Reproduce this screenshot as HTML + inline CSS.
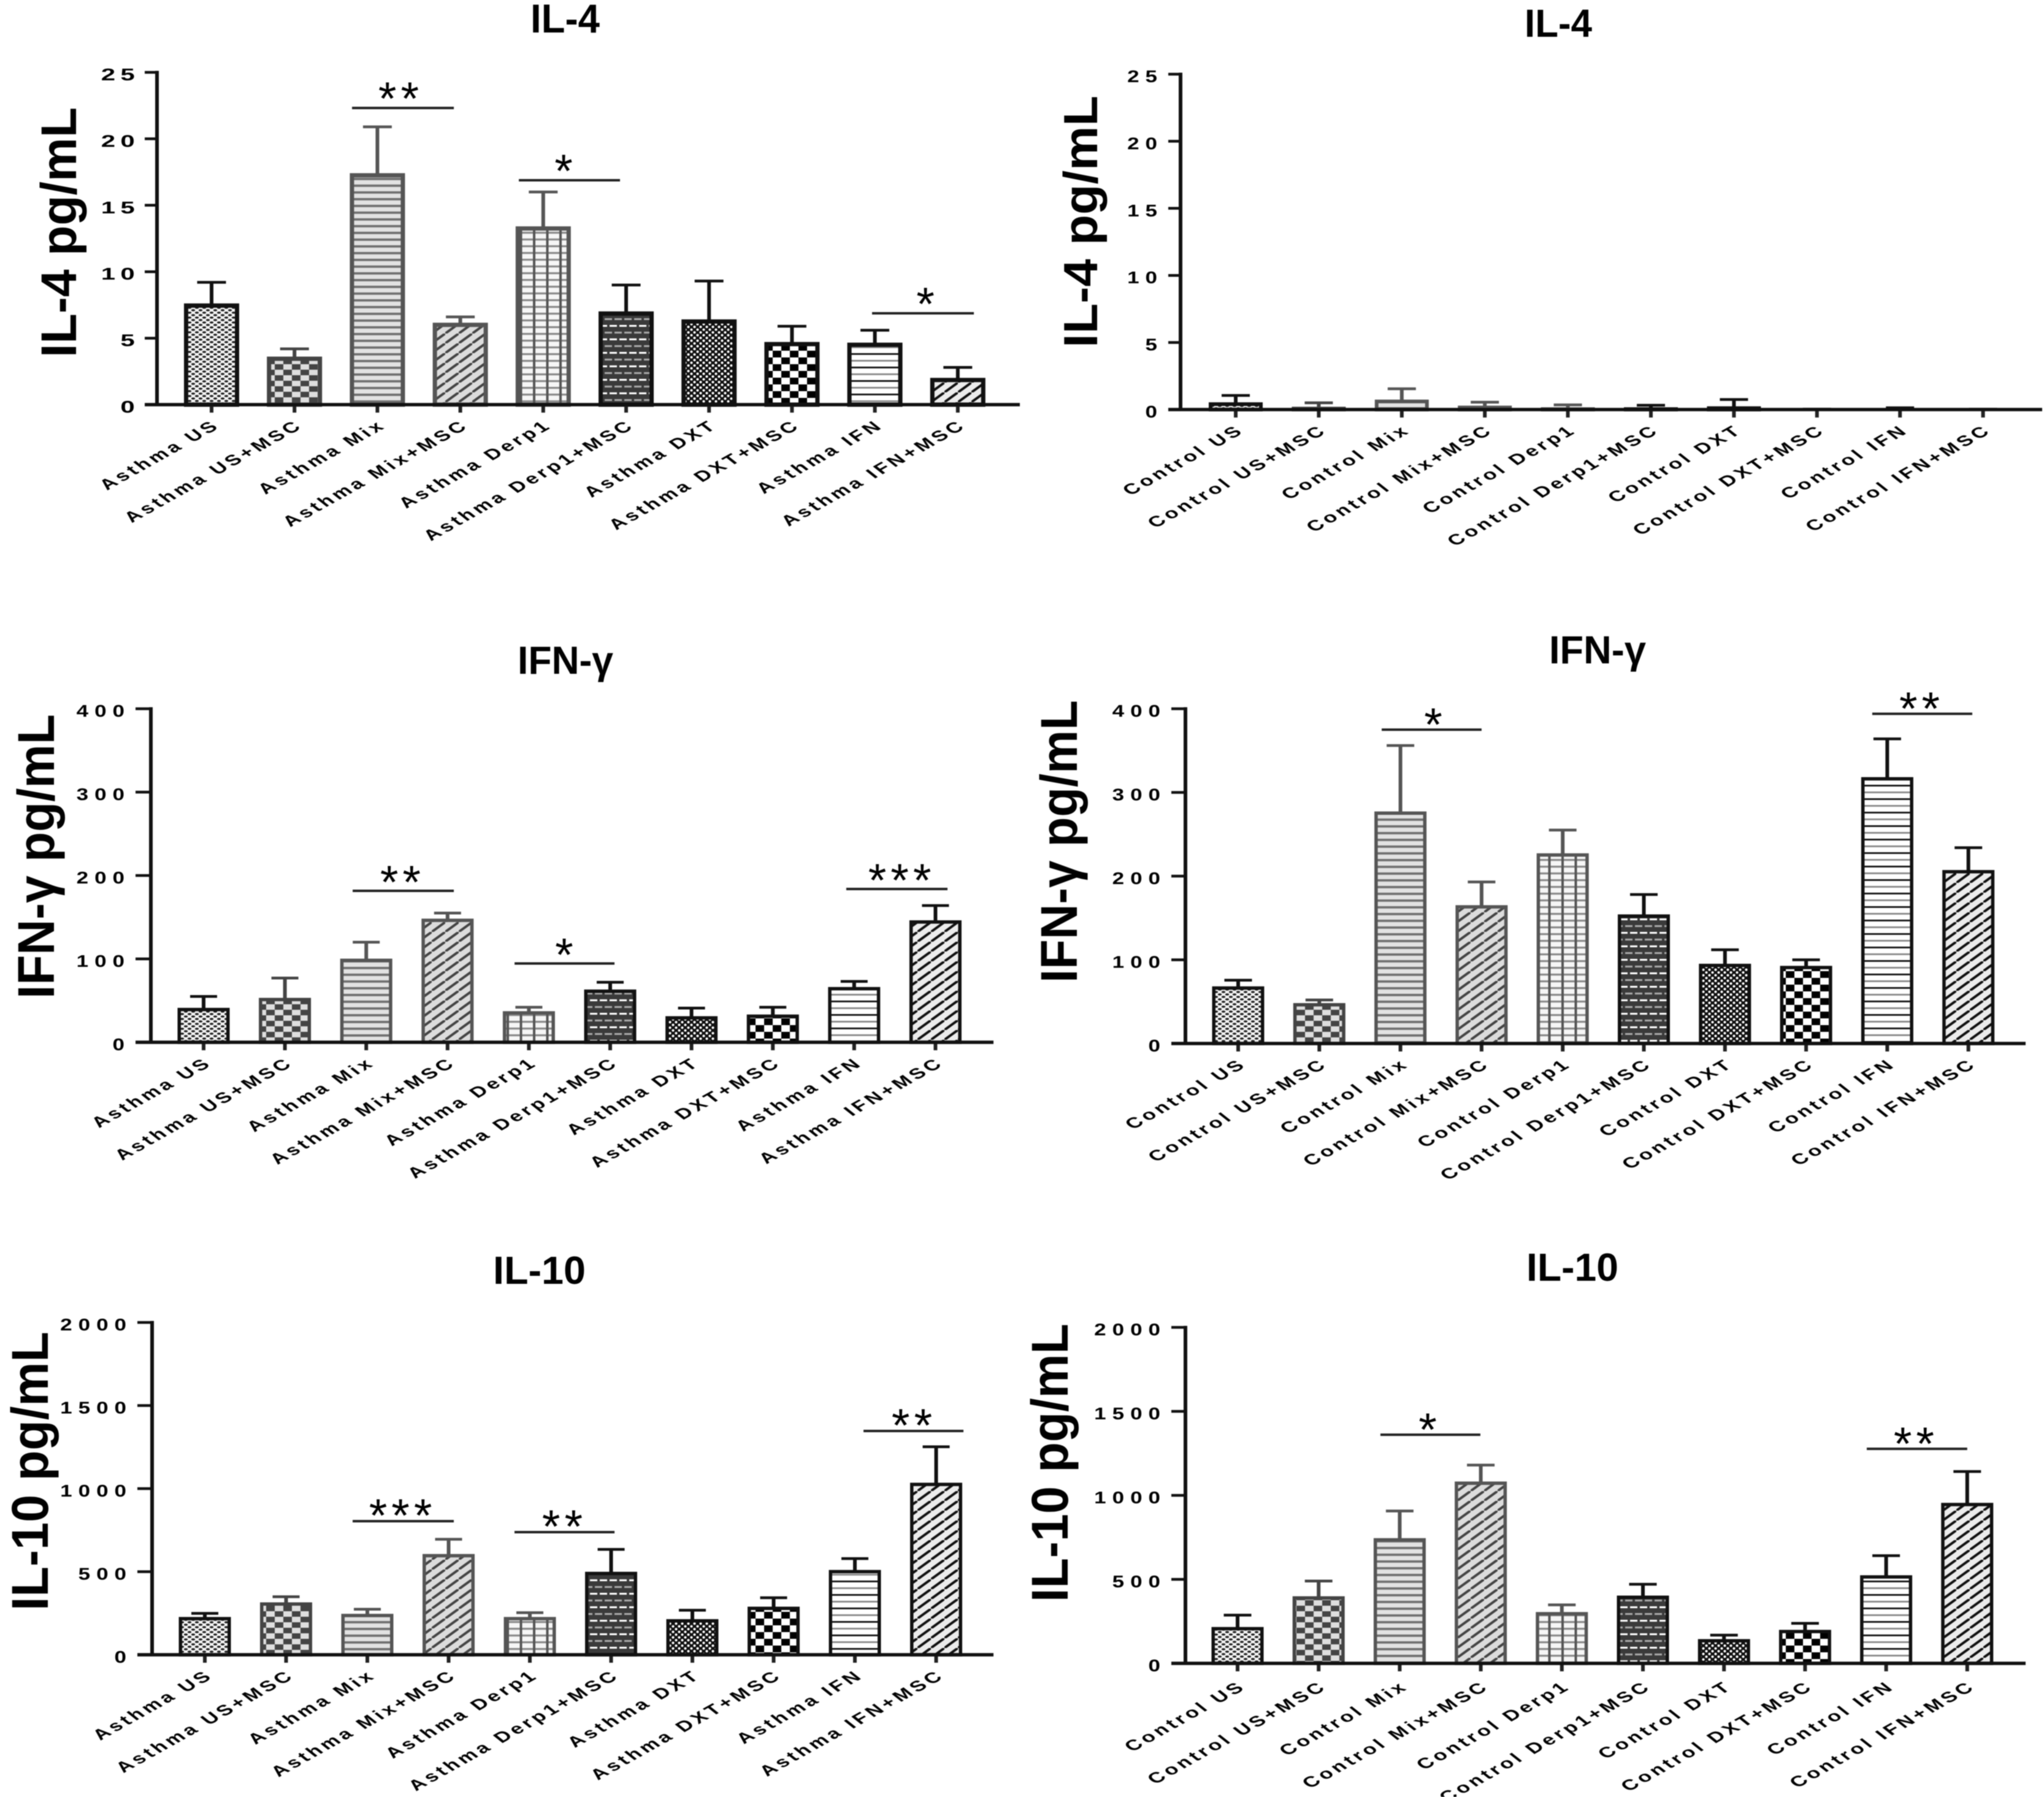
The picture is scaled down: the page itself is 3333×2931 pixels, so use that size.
<!DOCTYPE html>
<html lang="en">
<head>
<meta charset="utf-8">
<title>Cytokine levels in asthma and control groups</title>
<style>
html,body{margin:0;padding:0;background:#fff;}
#figure{display:block;width:3333px;height:2931px;background:#fff;filter:blur(0.7px);}
text{font-family:"Liberation Sans",sans-serif;fill:#000;}
</style>
</head>
<body>
<svg id="figure" xmlns="http://www.w3.org/2000/svg" width="3333" height="2931" viewBox="0 0 3333 2931">
<defs>
<pattern id="p0" patternUnits="userSpaceOnUse" width="12" height="8"><rect width="12" height="8" fill="#f4f4f4"/><ellipse cx="3" cy="2" rx="3.2" ry="1.8" fill="#222"/><ellipse cx="9" cy="6" rx="3.2" ry="1.8" fill="#222"/></pattern>
<pattern id="p1" patternUnits="userSpaceOnUse" width="28" height="18"><rect width="28" height="18" fill="#dedede"/><rect width="14" height="9" fill="#444"/><rect x="14" y="9" width="14" height="9" fill="#444"/></pattern>
<pattern id="p2" patternUnits="userSpaceOnUse" width="11" height="11"><rect width="11" height="11" fill="#e2e2e2"/><rect y="4" width="11" height="3.8" fill="#707070"/></pattern>
<pattern id="p3" patternUnits="userSpaceOnUse" width="22" height="16"><rect width="22" height="16" fill="#dcdcdc"/><path d="M-2 17.5L24 -1.5" stroke="#444" stroke-width="4"/></pattern>
<pattern id="p4" patternUnits="userSpaceOnUse" width="21.5" height="11"><rect width="21.5" height="11" fill="#f6f6f6"/><rect y="4" width="21.5" height="3.2" fill="#8a8a8a"/><rect x="9" width="4" height="11" fill="#555"/></pattern>
<pattern id="p5" patternUnits="userSpaceOnUse" width="32" height="22"><rect width="32" height="22" fill="#3a3a3a"/><rect x="2" y="2" width="12" height="3" fill="#fff"/><rect x="18" y="2" width="12" height="3" fill="#fff"/><rect x="-6" y="13" width="12" height="3" fill="#aaa"/><rect x="10" y="13" width="12" height="3" fill="#aaa"/><rect x="26" y="13" width="12" height="3" fill="#aaa"/></pattern>
<pattern id="p6" patternUnits="userSpaceOnUse" width="10" height="9"><rect width="10" height="9" fill="#111"/><circle cx="2.5" cy="2.2" r="2.1" fill="#fff"/><circle cx="7.5" cy="6.7" r="2.1" fill="#fff"/></pattern>
<pattern id="p7" patternUnits="userSpaceOnUse" width="28" height="22"><rect width="28" height="22" fill="#fff"/><rect width="14" height="11" fill="#000"/><rect x="14" y="11" width="14" height="11" fill="#000"/></pattern>
<pattern id="p8" patternUnits="userSpaceOnUse" width="11" height="22"><rect width="11" height="22" fill="#fff"/><rect y="4" width="11" height="2.8" fill="#111"/><rect y="15" width="11" height="2.8" fill="#888"/></pattern>
<pattern id="p9" patternUnits="userSpaceOnUse" width="22" height="16"><rect width="22" height="16" fill="#ececec"/><path d="M-2 17.5L24 -1.5" stroke="#111" stroke-width="4"/></pattern>
</defs>
</svg>
<script>
const asthmaCategories = ["Asthma US","Asthma US+MSC","Asthma Mix","Asthma Mix+MSC","Asthma Derp1","Asthma Derp1+MSC","Asthma DXT","Asthma DXT+MSC","Asthma IFN","Asthma IFN+MSC"];
const controlCategories = ["Control US","Control US+MSC","Control Mix","Control Mix+MSC","Control Derp1","Control Derp1+MSC","Control DXT","Control DXT+MSC","Control IFN","Control IFN+MSC"];

const il4Ticks = [0,5,10,15,20,25];
const ifnTicks = [0,100,200,300,400];
const il10Ticks = [0,500,1000,1500,2000];

const il4AsthmaMeans = [7.5,3.5,17.3,6.05,13.3,6.9,6.3,4.6,4.55,1.9];
const il4AsthmaUpper = [9.2,4.2,20.9,6.6,16,9,9.3,5.9,5.6,2.8];
const il4ControlMeans = [0.45,0.12,0.65,0.2,0.08,0.08,0.15,0,0.02,0];
const il4ControlUpper = [1.05,0.5,1.55,0.55,0.35,0.32,0.75,0.03,0.13,0.02];

const ifnAsthmaMeans = [40,52,99,147,36,62,30,32,65,145];
const ifnAsthmaUpper = [55,77,120,155,42,72,41,42,73,164];
const ifnControlMeans = [67,47,276,164,226,153,94,91.5,317,206];
const ifnControlUpper = [75.6,52,356,193,255,178,112,100,364,234];

const il10AsthmaMeans = [221,309,240,600,221,493,208,283,504,1029];
const il10AsthmaUpper = [249,349,274,695,253,634,268,343,579,1252];
const il10ControlMeans = [210,393,739,1076,299,397,138,193,518,949];
const il10ControlUpper = [287,490,907,1180,348,471,168,238,641,1142];

const il4AsthmaSigFrom = [1.694,3.706,7.966];
const il4AsthmaSigTo = [2.922,4.926,9.194];
const il4AsthmaSigLevel = [22.32,16.88,6.87];
const il4AsthmaSigMark = [2.256,4.246,8.61];
const il4AsthmaSigText = ["**","*","*"];

const ifnAsthmaSigFrom = [1.833,3.824,7.903];
const ifnAsthmaSigTo = [3.077,5.053,9.148];
const ifnAsthmaSigLevel = [181.6,94.5,183.8];
const ifnAsthmaSigMark = [2.42,4.434,8.56];
const ifnAsthmaSigText = ["**","*","***"];

const ifnControlSigFrom = [1.769,7.815];
const ifnControlSigTo = [3.0,9.048];
const ifnControlSigLevel = [375,394];
const ifnControlSigMark = [2.404,8.398];
const ifnControlSigText = ["*","**"];

const il10AsthmaSigFrom = [1.819,3.811,8.106];
const il10AsthmaSigTo = [3.064,5.042,9.336];
const il10AsthmaSigLevel = [804,738,1347];
const il10AsthmaSigMark = [2.408,4.4,8.702];
const il10AsthmaSigText = ["***","**","**"];

const il10ControlSigFrom = [1.762,7.761];
const il10ControlSigTo = [2.995,9.0];
const il10ControlSigLevel = [1361,1277];
const il10ControlSigMark = [2.345,8.343];
const il10ControlSigText = ["*","**"];

const barOutline = ["#111","#444","#555","#555","#555","#111","#111","#111","#111","#111"];

const panels = [
  {id:"il4-asthma",title:"IL-4",yTitle:"IL-4 pg/mL",cats:asthmaCategories,ticks:il4Ticks,means:il4AsthmaMeans,upper:il4AsthmaUpper,
   sigFrom:il4AsthmaSigFrom,sigTo:il4AsthmaSigTo,sigLevel:il4AsthmaSigLevel,sigMark:il4AsthmaSigMark,sigText:il4AsthmaSigText,
   axisX:256,top:118,zero:660,tickLeft:236,axisEnd:1663,first:345,step:135.2,barW:90,sw:7,capW:47,
   titleX:865,titleLen:113,titleY:53,titleSize:66,yX:124,yY:583,yLen:408,ySize:82,labelDY:36,numSX:1.5,numLS:5.5,starGap:30},
  {id:"il4-control",title:"IL-4",yTitle:"IL-4 pg/mL",cats:controlCategories,ticks:il4Ticks,means:il4ControlMeans,upper:il4ControlUpper,
   sigFrom:[],sigTo:[],sigLevel:[],sigMark:[],sigText:[],
   axisX:1925,top:121,zero:668,tickLeft:1905,axisEnd:3330,first:2015,step:135.4,barW:88,sw:6,capW:46,
   titleX:2486,titleLen:110,titleY:60,titleSize:64,yX:1789,yY:567,yLen:411,ySize:78,labelDY:36,numSX:1.25,numLS:8,starGap:26},
  {id:"ifn-asthma",title:"IFN-γ",yTitle:"IFN-γ pg/mL",cats:asthmaCategories,ticks:ifnTicks,means:ifnAsthmaMeans,upper:ifnAsthmaUpper,
   sigFrom:ifnAsthmaSigFrom,sigTo:ifnAsthmaSigTo,sigLevel:ifnAsthmaSigLevel,sigMark:ifnAsthmaSigMark,sigText:ifnAsthmaSigText,
   axisX:246,top:1156,zero:1700,tickLeft:221,axisEnd:1620,first:332,step:132.6,barW:85,sw:5.5,capW:44,
   titleX:844,titleLen:156,titleY:1099,titleSize:64,yX:88,yY:1629,yLen:464,ySize:84,labelDY:36,numSX:1.25,numLS:8,starGap:29},
  {id:"ifn-control",title:"IFN-γ",yTitle:"IFN-γ pg/mL",cats:controlCategories,ticks:ifnTicks,means:ifnControlMeans,upper:ifnControlUpper,
   sigFrom:ifnControlSigFrom,sigTo:ifnControlSigTo,sigLevel:ifnControlSigLevel,sigMark:ifnControlSigMark,sigText:ifnControlSigText,
   axisX:1933,top:1156,zero:1702,tickLeft:1910,axisEnd:3303,first:2019,step:132.3,barW:85,sw:5.5,capW:45,
   titleX:2526,titleLen:158,titleY:1082,titleSize:64,yX:1756,yY:1603,yLen:461,ySize:84,labelDY:36,numSX:1.25,numLS:8,starGap:23},
  {id:"il10-asthma",title:"IL-10",yTitle:"IL-10 pg/mL",cats:asthmaCategories,ticks:il10Ticks,means:il10AsthmaMeans,upper:il10AsthmaUpper,
   sigFrom:il10AsthmaSigFrom,sigTo:il10AsthmaSigTo,sigLevel:il10AsthmaSigLevel,sigMark:il10AsthmaSigMark,sigText:il10AsthmaSigText,
   axisX:248,top:2157,zero:2699,tickLeft:224,axisEnd:1620,first:334,step:132.5,barW:85,sw:5.5,capW:44,
   titleX:804,titleLen:151,titleY:2094,titleSize:64,yX:78,yY:2627,yLen:455,ySize:84,labelDY:36,numSX:1.25,numLS:8,starGap:24},
  {id:"il10-control",title:"IL-10",yTitle:"IL-10 pg/mL",cats:controlCategories,ticks:il10Ticks,means:il10ControlMeans,upper:il10ControlUpper,
   sigFrom:il10ControlSigFrom,sigTo:il10ControlSigTo,sigLevel:il10ControlSigLevel,sigMark:il10ControlSigMark,sigText:il10ControlSigText,
   axisX:1933,top:2165,zero:2713,tickLeft:1910,axisEnd:3303,first:2018,step:132.2,barW:85,sw:5.5,capW:45,
   titleX:2489,titleLen:150,titleY:2089,titleSize:64,yX:1741,yY:2613,yLen:454,ySize:84,labelDY:40,numSX:1.25,numLS:8,starGap:23}
];

const NS = "http://www.w3.org/2000/svg";
const root = document.getElementById("figure");

function make(tag, attrs, parent, content) {
  const node = document.createElementNS(NS, tag);
  for (const key in attrs) node.setAttribute(key, attrs[key]);
  if (content !== undefined) node.textContent = content;
  parent.appendChild(node);
  return node;
}
function slug(s) {
  return s.toLowerCase().replace(/\+/g, "-plus-").replace(/[^a-z0-9]+/g, "-").replace(/^-|-$/g, "");
}

panels.forEach(function (p) {
  const maxValue = p.ticks[p.ticks.length - 1];
  const xPos = function (i) { return p.first + i * p.step; };
  const yPos = function (v) { return p.zero - (v / maxValue) * (p.zero - p.top); };

  const panel = make("g", {}, root);
  
  

  const title = make("text", {x:p.titleX, y:p.titleY, "font-size":p.titleSize, "font-weight":"bold", textLength:p.titleLen, lengthAdjust:"spacingAndGlyphs"}, panel, p.title);
  
  

  const yTitle = make("text", {transform:"translate(" + p.yX + "," + p.yY + ") rotate(-90)", "font-size":p.ySize, "font-weight":"bold", textLength:p.yLen, lengthAdjust:"spacingAndGlyphs"}, panel, p.yTitle);
  
  

  p.cats.forEach(function (cat, i) {
    const cx = xPos(i);
    const color = barOutline[i];
    const topY = yPos(p.means[i]);
    const upY = yPos(p.upper[i]);

    const stem = make("line", {x1:cx, x2:cx, y1:upY, y2:topY, stroke:color, "stroke-width":6}, panel);
    
    

    const cap = make("line", {x1:cx - p.capW / 2, x2:cx + p.capW / 2, y1:upY, y2:upY, stroke:color, "stroke-width":4.5}, panel);
    
    

    const barTop = Math.min(topY + 1, p.zero);
    const bar = make("rect", {x:cx - p.barW / 2 + p.sw / 2, y:barTop, width:p.barW - p.sw, height:p.zero - barTop, fill:"url(#p" + i + ")", stroke:color, "stroke-width":p.sw}, panel);
    
    

    const xTick = make("line", {x1:cx, x2:cx, y1:p.zero, y2:p.zero + 13, stroke:"#222", "stroke-width":6}, panel);
    
    

    const label = make("text", {transform:"translate(" + (cx + 16) + "," + (p.zero + p.labelDY) + ") scale(1.5,1) rotate(-40)", "font-size":24, "font-weight":"bold", "letter-spacing":3.8, "text-anchor":"end", fill:"#111"}, panel, cat);
    
    
  });

  const yAxis = make("line", {x1:p.axisX, x2:p.axisX, y1:p.top - 2.5, y2:p.zero + 2, stroke:"#111", "stroke-width":6}, panel);
  
  

  const xAxis = make("line", {x1:p.tickLeft, x2:p.axisEnd, y1:p.zero, y2:p.zero, stroke:"#111", "stroke-width":5.5}, panel);
  
  

  p.ticks.forEach(function (t) {
    const ty = yPos(t);
    const yTick = make("line", {x1:p.tickLeft, x2:p.axisX, y1:ty, y2:ty, stroke:"#111", "stroke-width":4.5}, panel);
    
    

    const yLabel = make("text", {transform:"translate(" + (p.tickLeft - 8) + "," + (ty + 13) + ") scale(" + p.numSX + ",1)", "font-size":28, "font-weight":"bold", "letter-spacing":p.numLS, "text-anchor":"end", fill:"#111"}, panel, String(t));
    
    
  });

  p.sigText.forEach(function (txt, k) {
    const ly = yPos(p.sigLevel[k]);
    const sigLine = make("line", {x1:xPos(p.sigFrom[k]), x2:xPos(p.sigTo[k]), y1:ly, y2:ly, stroke:"#222", "stroke-width":4}, panel);
    
    

    const star = make("text", {x:xPos(p.sigMark[k]) + 3.5, y:ly - p.starGap + 41, "font-size":76, "letter-spacing":7, "text-anchor":"middle", fill:"#111"}, panel, txt);
    
    
  });
});
</script>
</body>
</html>
